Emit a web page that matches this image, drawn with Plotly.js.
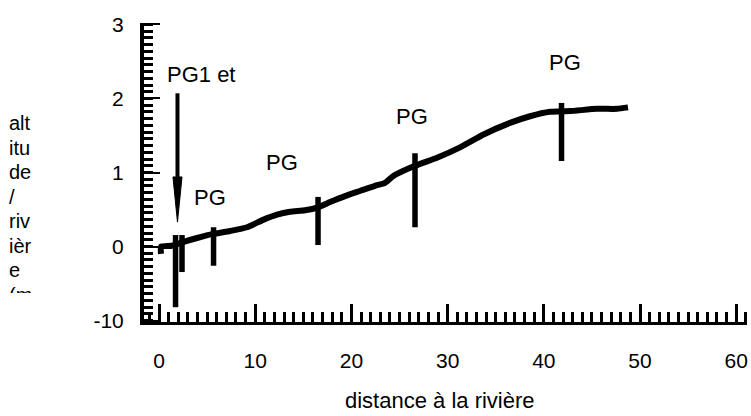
<!DOCTYPE html>
<html>
<head>
<meta charset="utf-8">
<script src="https://cdn.plot.ly/plotly-3.0.1.min.js"></script>
<style>html,body{margin:0;padding:0;background:#fff}#chart{width:751px;height:416px}</style>
</head>
<body>
<div id="chart"></div>
<script>
// profile of the water table / ground
const distance = [0.21,0.21,1.35,2.49,3.95,5.61,7.38,9.15,10.81,12.27,13.62,15.18,16.53,17.78,19.33,20.89,22.45,23.49,24.32,26.61,28.90,31.29,33.68,36.49,38.57,40.64,42.72,45.53,47.61,48.75];
const altitude = [-0.10,0.00,0.01,0.06,0.115,0.17,0.21,0.26,0.36,0.43,0.47,0.49,0.53,0.60,0.68,0.75,0.82,0.86,0.95,1.09,1.20,1.34,1.51,1.67,1.76,1.82,1.83,1.86,1.86,1.88];

// piezometers (vertical bars)
const pzX      = [1.72, 2.39, 5.67, 16.53, 26.61, 41.84];
const pzTop    = [0.155, 0.155, 0.26, 0.67, 1.26, 1.94];
const pzBottom = [-0.82, -0.345, -0.26, 0.02, 0.26, 1.155];

// labels
const labelText = ['PG1 et', 'PG', 'PG', 'PG', 'PG'];
const labelX    = [4.37, 5.30, 12.79, 26.30, 42.18];
const labelY    = [2.32, 0.66, 1.13, 1.75, 2.48];

// arrow
const arrowX = [1.92];
const arrowTop = [2.07];
const arrowHeadTop = [0.94];
const arrowTip = [0.33];
const arrowHalfWidth = 0.47;

// axes
const yTickVals = [-1, 0, 1, 2, 3];
const yTickText = ['-10', '0', '1', '2', '3'];
const xTitle = 'distance à la rivière';
const yTitleLines = ['alt', 'itu', 'de', '/', 'riv', 'ièr', 'e', '(m'];

const FONT = 'Liberation Sans, Arial, sans-serif';

// build bar trace with gaps
const barX = [], barY = [];
pzX.forEach((x, i) => { barX.push(x, x, null); barY.push(pzTop[i], pzBottom[i], null); });

const traces = [
  {x: barX, y: barY, mode: 'lines', line: {color: '#000', width: 5.5}, hoverinfo: 'skip'},
  {x: distance, y: altitude, mode: 'lines', line: {color: '#000', width: 6, shape: 'spline', smoothing: 0.5}, hoverinfo: 'skip'},
  {x: [arrowX[0], arrowX[0]], y: [arrowTop[0], arrowHeadTop[0]], mode: 'lines', line: {color: '#000', width: 4}, hoverinfo: 'skip'},
  {x: [arrowX[0] - arrowHalfWidth, arrowX[0] + arrowHalfWidth, arrowX[0], arrowX[0] - arrowHalfWidth],
   y: [arrowHeadTop[0], arrowHeadTop[0], arrowTip[0], arrowHeadTop[0]],
   mode: 'lines', fill: 'toself', fillcolor: '#000', line: {color: '#000', width: 1}, hoverinfo: 'skip'}
];

const L = 144, R = 4, T = 23, B = 94, W = 751, H = 416;
const pw = W - L - R, ph = H - T - B;
const px2paperX = p => (p - L) / pw;
const px2paperY = p => (H - B - p) / ph;

const annotations = labelText.map((t, i) => ({
  x: labelX[i], y: labelY[i], xref: 'x', yref: 'y', text: t, showarrow: false,
  xanchor: 'center', yanchor: 'middle', font: {family: FONT, size: 22, color: '#000'}
}));

annotations.push({
  x: px2paperX(440), y: px2paperY(400), xref: 'paper', yref: 'paper', text: xTitle,
  showarrow: false, xanchor: 'center', yanchor: 'middle', font: {family: FONT, size: 22, color: '#000'}
});

yTitleLines.forEach((t, i) => {
  const last = i === yTitleLines.length - 1;
  const a = {
    x: px2paperX(8), y: px2paperY(123 + 24.5 * i - 12), xref: 'paper', yref: 'paper', text: t,
    showarrow: false, xanchor: 'left', yanchor: 'top', align: 'left',
    font: {family: FONT, size: 20, color: '#000'}, borderpad: 0
  };
  if (last) { a.height = 9; a.valign = 'top'; }
  annotations.push(a);
});

const layout = {
  width: W, height: H,
  margin: {l: L, r: R, t: T, b: B, pad: 0},
  paper_bgcolor: '#fff', plot_bgcolor: '#fff',
  showlegend: false,
  font: {family: FONT, size: 22, color: '#000'},
  xaxis: {
    range: [-1.56, 61.12], tickmode: 'linear', tick0: 0, dtick: 10,
    ticks: 'inside', ticklen: 18, tickwidth: 3, tickcolor: '#000',
    showline: true, linewidth: 3, linecolor: '#000',
    showgrid: false, zeroline: false,
    tickfont: {family: FONT, size: 21, color: '#000'}, ticklabelstandoff: 18,
    minor: {tick0: 0, dtick: 1, ticks: 'inside', ticklen: 10, tickwidth: 3, tickcolor: '#000', showgrid: false}
  },
  yaxis: {
    range: [-1.02, 3.02], tickmode: 'array', tickvals: yTickVals, ticktext: yTickText,
    ticks: 'inside', ticklen: 16, tickwidth: 2, tickcolor: '#000',
    showline: true, linewidth: 4, linecolor: '#000',
    showgrid: false, zeroline: false,
    tickfont: {family: FONT, size: 21, color: '#000'}, ticklabelstandoff: 12,
    minor: {tick0: 0, dtick: 1 / 11, ticks: 'inside', ticklen: 9, tickwidth: 3, tickcolor: '#000', showgrid: false}
  },
  annotations: annotations
};

Plotly.newPlot('chart', traces, layout, {staticPlot: true, displayModeBar: false});
</script>
</body>
</html>
